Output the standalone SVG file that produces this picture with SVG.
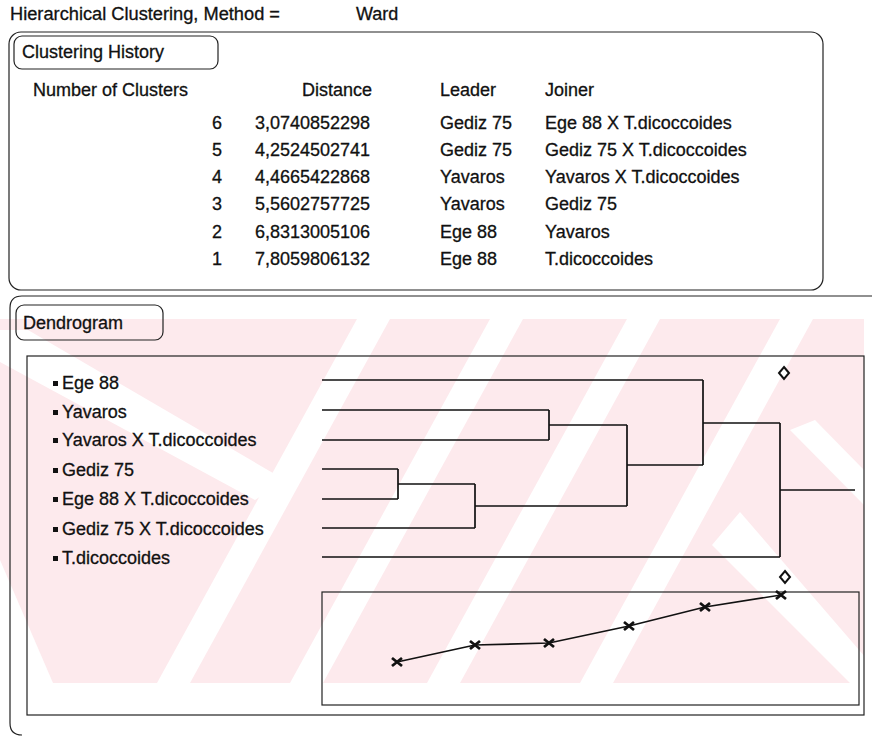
<svg xmlns="http://www.w3.org/2000/svg" width="872" height="736" viewBox="0 0 872 736">
<style>
text{font-family:"Liberation Sans",Arial,sans-serif;font-size:18px;fill:#111;stroke:#111;stroke-width:0.3}
.box{fill:none;stroke:#222;stroke-width:1.2}
.ln{fill:none;stroke:#111;stroke-width:1.7}
.wm{fill:#fdeaed}
.wh{fill:#fff}
</style>
<defs>
<clipPath id="wmclip"><rect x="0" y="319" width="864" height="364"/></clipPath>
<g id="xm"><path d="M-5,-4 L5,4 M-5,4 L5,-4" stroke="#111" stroke-width="2.8"/></g>
</defs>
<rect width="872" height="736" fill="#fff"/>
<g id="watermark" clip-path="url(#wmclip)">
<rect class="wm" x="0" y="319" width="864" height="364"/>
<polygon class="wh" points="0,560 0,683 53,683"/>
<polygon class="wh" points="157,683 190,683 390,319 357,319"/>
<polygon class="wh" points="290,683 323,683 523,319 490,319"/>
<polygon class="wh" points="427,683 460,683 660,319 627,319"/>
<polygon class="wh" points="580,683 613,683 813,319 780,319"/>
<polygon class="wh" points="0,330 28,330 285,480 255,500 0,362"/>
<polygon class="wh" points="712,545 740,512 872,665 872,683 850,683"/>
<polygon class="wh" points="790,430 815,420 864,470 864,505"/>
</g>
<g id="title">
<text x="10" y="20" textLength="270" lengthAdjust="spacingAndGlyphs">Hierarchical Clustering, Method =</text>
<text x="356" y="20">Ward</text>
</g>
<g id="history">
<rect class="box" x="9" y="32" width="814" height="258" rx="12"/>
<rect class="box" x="14" y="36" width="204" height="33" rx="8"/>
<text x="22" y="58">Clustering History</text>
<text x="33" y="96">Number of Clusters</text>
<text x="372" y="96" text-anchor="end">Distance</text>
<text x="440" y="96">Leader</text>
<text x="545" y="96">Joiner</text>
<g text-anchor="end">
<text x="222" y="129">6</text><text x="222" y="156">5</text><text x="222" y="183">4</text>
<text x="222" y="210">3</text><text x="222" y="238">2</text><text x="222" y="265">1</text>
</g>
<g text-anchor="end">
<text x="370" y="129">3,0740852298</text><text x="370" y="156">4,2524502741</text><text x="370" y="183">4,4665422868</text>
<text x="370" y="210">5,5602757725</text><text x="370" y="238">6,8313005106</text><text x="370" y="265">7,8059806132</text>
</g>
<text x="440" y="129">Gediz 75</text><text x="440" y="156">Gediz 75</text><text x="440" y="183">Yavaros</text>
<text x="440" y="210">Yavaros</text><text x="440" y="238">Ege 88</text><text x="440" y="265">Ege 88</text>
<text x="545" y="129">Ege 88 X T.dicoccoides</text><text x="545" y="156">Gediz 75 X T.dicoccoides</text><text x="545" y="183">Yavaros X T.dicoccoides</text>
<text x="545" y="210">Gediz 75</text><text x="545" y="238">Yavaros</text><text x="545" y="265">T.dicoccoides</text>
</g>
<g id="dendrogram-frame">
<path class="box" d="M872,296 H22 Q10,296 10,308 V723 Q10,735 22,735"/>
<rect class="box" x="16" y="305" width="147" height="35" rx="8"/>
<text x="23" y="329">Dendrogram</text>
<rect class="box" x="27" y="356" width="837" height="359"/>
</g>
<g id="leaves">
<g fill="#111">
<rect x="53" y="381" width="5" height="5"/><rect x="53" y="410" width="5" height="5"/><rect x="53" y="438" width="5" height="5"/>
<rect x="53" y="468" width="5" height="5"/><rect x="53" y="497" width="5" height="5"/><rect x="53" y="527" width="5" height="5"/>
<rect x="53" y="556" width="5" height="5"/>
</g>
<text x="62" y="389">Ege 88</text>
<text x="62" y="418">Yavaros</text>
<text x="62" y="446">Yavaros X T.dicoccoides</text>
<text x="62" y="476">Gediz 75</text>
<text x="62" y="505">Ege 88 X T.dicoccoides</text>
<text x="62" y="535">Gediz 75 X T.dicoccoides</text>
<text x="62" y="564">T.dicoccoides</text>
</g>
<g id="connectors">
<path class="ln" d="M322,380 H703 M322,410 H549 M322,440 H549 M549,410 V440 M549,425 H627"/>
<path class="ln" d="M322,469 H398 M322,499 H398 M398,469 V499 M398,484 H475 M322,528 H475 M475,484 V528 M475,506 H627"/>
<path class="ln" d="M627,425 V506 M627,465 H703 M703,380 V465 M703,423 H780 M322,557 H780 M780,423 V557 M780,490 H855"/>
</g>
<g id="markers">
<path d="M784,367 L789,373 L784,379 L779,373 Z" fill="#fff" stroke="#111" stroke-width="2"/>
<path d="M785,571 L790,577 L785,583 L780,577 Z" fill="#fff" stroke="#111" stroke-width="2"/>
</g>
<g id="distance-plot">
<rect class="box" x="322" y="592" width="537" height="113"/>
<polyline class="ln" points="397,662 475,645 549,643 629,626 705,607 781,595"/>
<use href="#xm" x="397" y="662"/><use href="#xm" x="475" y="645"/><use href="#xm" x="549" y="643"/>
<use href="#xm" x="629" y="626"/><use href="#xm" x="705" y="607"/><use href="#xm" x="781" y="595"/>
</g>
</svg>
